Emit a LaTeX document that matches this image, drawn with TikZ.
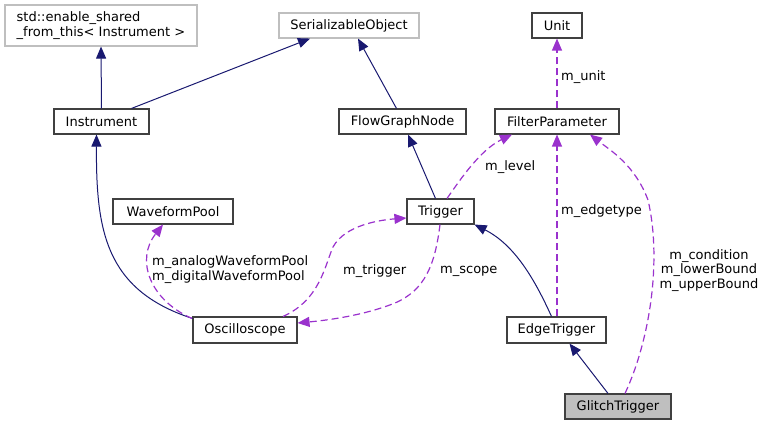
\documentclass[tikz,border=0pt]{standalone}
\usepackage{fontspec}
\setmainfont{DejaVu Sans}
\usetikzlibrary{arrows.meta,calc}
\definecolor{navy}{HTML}{191970}
\definecolor{purp}{HTML}{9A32CD}
\definecolor{boxgray}{HTML}{BFBFBF}
\definecolor{edgek}{HTML}{404040}
\begin{document}
\begin{tikzpicture}[x=1pt,y=-1pt,
  font=\fontsize{13}{14.5}\selectfont,
  cls/.style={draw=edgek,line width=1.1pt,fill=white,inner sep=0pt,minimum height=25pt},
  ext/.style={draw=boxgray,line width=1.1pt,fill=white,inner sep=0pt},
  inh/.style={draw=navy,line width=1pt,-{Triangle[length=12pt,width=10pt]}},
  use/.style={draw=purp,line width=1.2pt,dash pattern=on 7pt off 4pt,-{Triangle[length=12pt,width=10pt]}},
  lbl/.style={inner sep=0pt,text=black}]
\useasboundingbox (0,0) rectangle (764,425);
\node[ext,minimum width=192pt,minimum height=41pt,align=left] (esft) at (101,25.5) {std::enable\_shared\\\_from\_this< Instrument >};
\node[ext,minimum width=140pt,minimum height=25pt] (ser) at (349,25.5) {SerializableObject};
\node[cls,minimum width=50pt] (unit) at (557,25.5) {Unit};
\node[cls,minimum width=95pt] (inst) at (101.5,121.5) {Instrument};
\node[cls,minimum width=127pt] (fgn) at (402.5,121.5) {FlowGraphNode};
\node[cls,minimum width=124pt] (fp) at (557,121.5) {FilterParameter};
\node[cls,minimum width=120pt] (wp) at (173,211.5) {WaveformPool};
\node[cls,minimum width=67pt] (trig) at (440.5,211.5) {Trigger};
\node[cls,minimum width=104pt,minimum height=26pt] (osc) at (245,330) {Oscilloscope};
\node[cls,minimum width=99pt,minimum height=26pt] (edge) at (556.5,330) {EdgeTrigger};
\node[cls,minimum width=106pt,fill=boxgray] (glitch) at (618,406.5) {GlitchTrigger};
% inheritance
\draw[inh] (inst.north) -- (esft.south);
\draw[inh] ([xshift=30pt]inst.north) -- ([xshift=-39pt]ser.south);
\draw[inh] ([xshift=-6pt]fgn.north) -- ([xshift=9pt]ser.south);
\draw[inh] ([xshift=-5pt]trig.north) -- ([xshift=5.5pt]fgn.south);
\draw[inh] ([xshift=-5pt]edge.north) .. controls (535,280) and (515,245) .. (trig.south east);
\draw[inh] ([xshift=-10pt]glitch.north) -- ([xshift=13pt]edge.south);
\draw[inh] ([yshift=-2pt]osc.north west) .. controls (105,290) and (96,230) .. ([xshift=-5pt]inst.south);
% usage
\draw[use] (fp.north) -- (unit.south);
\draw[use] ([xshift=0.5pt]edge.north) -- (fp.south);
\draw[use] ([xshift=6.5pt]trig.north) .. controls (460,180) and (480,150) .. ([xshift=-45pt]fp.south);
\draw[use] ([xshift=7pt]glitch.north) .. controls (650,340) and (662,260) .. (648,200) .. controls (635,165) and (610,150) .. ([xshift=33pt]fp.south);
\draw[use] ([xshift=-53pt,yshift=-2pt]osc.north) .. controls (150,300) and (135,260) .. ([xshift=-10pt]wp.south);
\draw[use] ([xshift=38pt]osc.north) .. controls (320,300) and (325,265) .. (333,247) .. controls (345,225) and (380,220) .. ([yshift=-6.5pt]trig.west);
\draw[use] ([xshift=-0.5pt]trig.south) .. controls (435,265) and (425,290) .. (395,303) .. controls (365,315) and (330,320) .. ([yshift=7pt]osc.east);
% labels
\node[lbl,anchor=west] (lunit) at (561,77) {m\_unit};
\node[lbl,anchor=west] (llevel) at (485,167) {m\_level};
\node[lbl,anchor=west] (ledge) at (561,211) {m\_edgetype};
\node[lbl,align=center] (lcond) at (709,270.5) {m\_condition\\m\_lowerBound\\m\_upperBound};
\node[lbl,anchor=west] (lscope) at (440,271) {m\_scope};
\node[lbl,anchor=west] (ltrig) at (343,271) {m\_trigger};
\node[lbl,align=left,anchor=west] (lwp) at (152,269.5) {m\_analogWaveformPool\\m\_digitalWaveformPool};
\end{tikzpicture}
\end{document}
